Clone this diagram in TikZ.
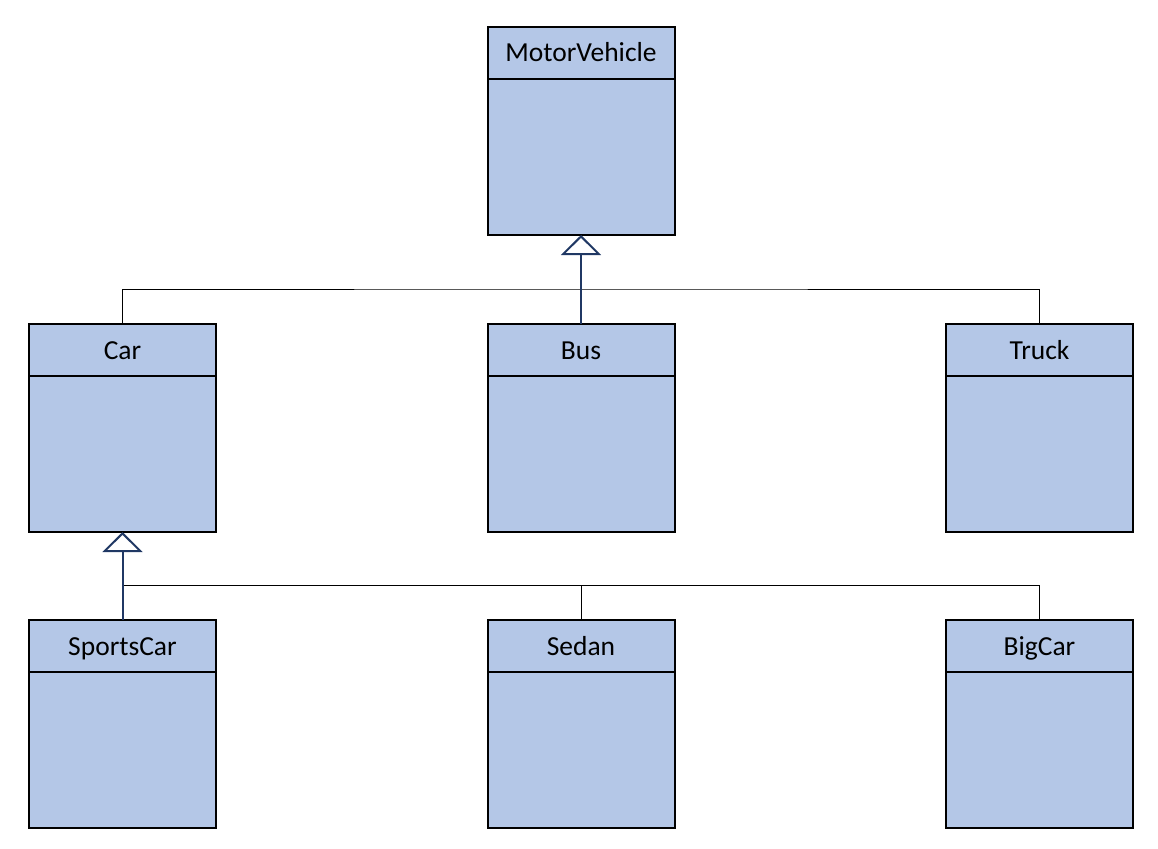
\documentclass[tikz,border=0pt]{standalone}
\usepackage{fontspec}
\setmainfont{Carlito}
\usetikzlibrary{arrows.meta, positioning}
\definecolor{classfill}{HTML}{B4C7E7}
\definecolor{navy}{HTML}{203864}

\begin{document}
\begin{tikzpicture}[x=1pt, y=-1pt, >=Stealth]
        % Estilos para las clases y las lineas
        \tikzstyle{classhead} = [draw, line width=2pt, fill=classfill, rectangle, minimum width=187pt, minimum height=52pt, inner sep=0pt, outer sep=0pt, text height=21pt, text depth=3pt, font=\fontsize{27.5}{32}\selectfont]
        \tikzstyle{classbody} = [draw, line width=2pt, fill=classfill, rectangle, minimum width=187pt, minimum height=156pt, inner sep=0pt, outer sep=0pt]
        \tikzstyle{link} = [draw, line width=1pt, black]
        \tikzstyle{inherit} = [draw, line width=2pt, navy, -{Triangle[open, length=20pt, width=40pt, fill=white]}]

        \useasboundingbox (0,0) rectangle (1158,848);

        % Nodes
        \node [classhead] at (581,53) (motorvehicle) {MotorVehicle};
        \node [classbody, below=0pt of motorvehicle] (motorvehiclebody) {};
        \node [classhead, on grid, below=297pt of motorvehicle] (bus) {Bus};
        \node [classbody, below=0pt of bus] (busbody) {};
        \node [classhead, on grid, left=458.5pt of bus] (car) {Car};
        \node [classbody, below=0pt of car] (carbody) {};
        \node [classhead, on grid, right=458.5pt of bus] (truck) {Truck};
        \node [classbody, below=0pt of truck] (truckbody) {};
        \node [classhead, on grid, below=296pt of car] (sportscar) {SportsCar};
        \node [classbody, below=0pt of sportscar] (sportscarbody) {};
        \node [classhead, on grid, below=296pt of bus] (sedan) {Sedan};
        \node [classbody, below=0pt of sedan] (sedanbody) {};
        \node [classhead, on grid, below=296pt of truck] (bigcar) {BigCar};
        \node [classbody, below=0pt of bigcar] (bigcarbody) {};
        \coordinate (jointop) at (581,289);
        \coordinate (joinbot) at (122,585);

        % Lines
        \draw [link] (car.north) |- (jointop) -| (truck.north);
        \draw [link] (joinbot) -| (bigcar.north);
        \draw [link] (sedan.north) -- (sedan.north |- joinbot);
        \draw [inherit] (bus.north) -- (motorvehiclebody.south);
        \draw [inherit] (sportscar.north) -- (carbody.south);

      \end{tikzpicture}
\end{document}
